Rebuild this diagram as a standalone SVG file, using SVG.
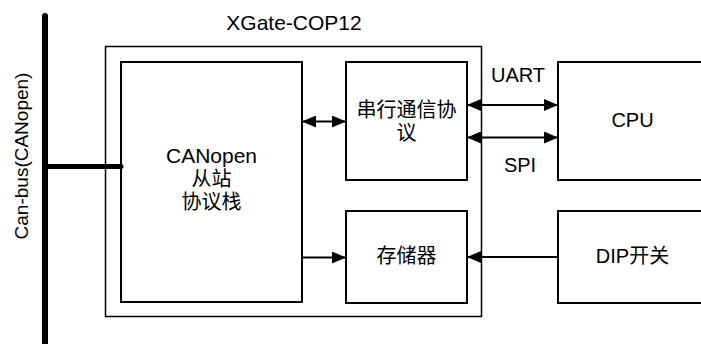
<svg xmlns="http://www.w3.org/2000/svg" width="701" height="344" viewBox="0 0 701 344">
<defs>
<style>
.box{fill:#fff;stroke:#000;stroke-width:2}
.outer{fill:#fff;stroke:#000;stroke-width:1.5}
text{font-family:"Liberation Sans","Noto Sans CJK SC",sans-serif;font-size:20px;fill:#000;text-anchor:middle}
.conn{stroke:#000;stroke-width:2;fill:none}
</style>
<marker id="ah" viewBox="0 0 14 12" refX="13" refY="6" markerWidth="14" markerHeight="12" markerUnits="userSpaceOnUse" orient="auto-start-reverse">
<path d="M0,0 L14,6 L0,12 z" fill="#000"/>
</marker>
</defs>
<rect width="701" height="344" fill="#fff"/>
<g id="xgate">
<rect class="outer" x="105.5" y="46.5" width="376" height="270"/>
<text x="294" y="30" style="font-size:21px">XGate-COP12</text>
</g>
<g id="canopen">
<rect class="box" x="121" y="62" width="181" height="240"/>
<text x="211.5" y="163" style="font-size:21px">CANopen</text>
<text x="211.5" y="186">从站</text>
<text x="211.5" y="209">协议栈</text>
</g>
<g id="serial">
<rect class="box" x="346" y="62" width="121" height="118"/>
<text x="406.5" y="117">串行通信协</text>
<text x="406.5" y="140">议</text>
</g>
<g id="storage">
<rect class="box" x="346" y="211" width="121" height="92"/>
<text x="406.5" y="263">存储器</text>
</g>
<g id="cpu">
<rect class="box" x="558" y="62" width="150" height="118"/>
<text x="632.5" y="127">CPU</text>
</g>
<g id="dip">
<rect class="box" x="558" y="211" width="150" height="92"/>
<text x="632.5" y="263">DIP开关</text>
</g>
<g id="bus">
<line x1="45" y1="16" x2="45" y2="350" stroke="#000" stroke-width="6" stroke-linecap="round"/>
<line x1="45" y1="166.5" x2="121" y2="166.5" stroke="#000" stroke-width="5" stroke-linecap="round"/>
<text transform="translate(28,156) rotate(-90)" style="font-size:19px">Can-bus(CANopen)</text>
</g>
<g id="connectors">
<line class="conn" x1="303" y1="121.5" x2="345" y2="121.5" marker-start="url(#ah)" marker-end="url(#ah)"/>
<line class="conn" x1="468" y1="105" x2="557" y2="105" marker-start="url(#ah)" marker-end="url(#ah)"/>
<line class="conn" x1="468" y1="137.5" x2="557" y2="137.5" marker-start="url(#ah)" marker-end="url(#ah)"/>
<line class="conn" x1="302" y1="257.5" x2="345" y2="257.5" marker-end="url(#ah)"/>
<line class="conn" x1="558" y1="257" x2="468" y2="257" marker-end="url(#ah)"/>
<text x="518" y="82">UART</text>
<text x="520" y="172">SPI</text>
</g>
</svg>
